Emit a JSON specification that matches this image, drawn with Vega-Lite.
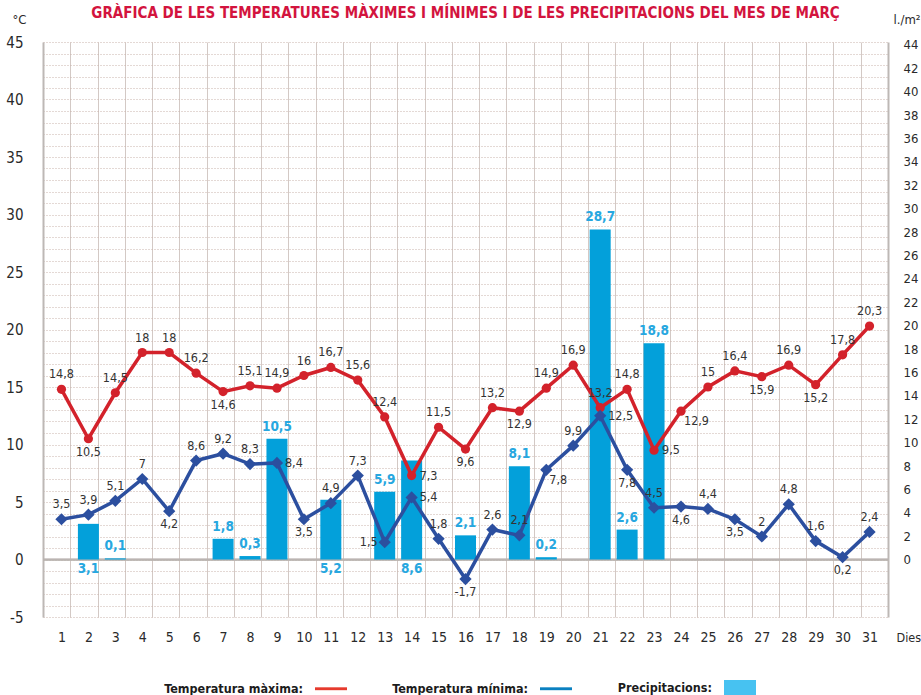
{
  "$schema": "https://vega.github.io/schema/vega-lite/v6.json",
  "width": 845,
  "height": 575,
  "autosize": {"type": "none"},
  "padding": {"left": 43, "top": 42, "right": 33, "bottom": 78},
  "background": "#ffffff",
  "title": {
    "text": "GRÀFICA DE LES TEMPERATURES MÀXIMES I MÍNIMES I DE LES PRECIPITACIONS DEL MES DE MARÇ",
    "anchor": "middle",
    "frame": "group",
    "color": "#d3143e",
    "fontSize": 15,
    "fontWeight": "bold",
    "baseline": "alphabetic",
    "offset": 0,
    "dy": 20
  },
  "data": {
    "values": [
      {"day": 1, "tmax": 14.8, "tmin": 3.5, "precip": null, "pmax": "a", "pmin": "a", "pp": null},
      {"day": 2, "tmax": 10.5, "tmin": 3.9, "precip": 3.1, "pmax": "b", "pmin": "a", "pp": "b"},
      {"day": 3, "tmax": 14.5, "tmin": 5.1, "precip": 0.1, "pmax": "a", "pmin": "a", "pp": "a"},
      {"day": 4, "tmax": 18, "tmin": 7, "precip": null, "pmax": "a", "pmin": "a", "pp": null},
      {"day": 5, "tmax": 18, "tmin": 4.2, "precip": null, "pmax": "a", "pmin": "b", "pp": null},
      {"day": 6, "tmax": 16.2, "tmin": 8.6, "precip": null, "pmax": "a", "pmin": "a", "pp": null},
      {"day": 7, "tmax": 14.6, "tmin": 9.2, "precip": 1.8, "pmax": "b", "pmin": "a", "pp": "a"},
      {"day": 8, "tmax": 15.1, "tmin": 8.3, "precip": 0.3, "pmax": "a", "pmin": "a", "pp": "a"},
      {"day": 9, "tmax": 14.9, "tmin": 8.4, "precip": 10.5, "pmax": "a", "pmin": "r", "pp": "a"},
      {"day": 10, "tmax": 16, "tmin": 3.5, "precip": null, "pmax": "a", "pmin": "b", "pp": null},
      {"day": 11, "tmax": 16.7, "tmin": 4.9, "precip": 5.2, "pmax": "a", "pmin": "a", "pp": "b"},
      {"day": 12, "tmax": 15.6, "tmin": 7.3, "precip": null, "pmax": "a", "pmin": "a", "pp": null},
      {"day": 13, "tmax": 12.4, "tmin": 1.5, "precip": 5.9, "pmax": "a", "pmin": "l", "pp": "a"},
      {"day": 14, "tmax": 7.3, "tmin": 5.4, "precip": 8.6, "pmax": "r", "pmin": "r", "pp": "b"},
      {"day": 15, "tmax": 11.5, "tmin": 1.8, "precip": null, "pmax": "a", "pmin": "a", "pp": null},
      {"day": 16, "tmax": 9.6, "tmin": -1.7, "precip": 2.1, "pmax": "b", "pmin": "b", "pp": "a"},
      {"day": 17, "tmax": 13.2, "tmin": 2.6, "precip": null, "pmax": "a", "pmin": "a", "pp": null},
      {"day": 18, "tmax": 12.9, "tmin": 2.1, "precip": 8.1, "pmax": "b", "pmin": "a", "pp": "a"},
      {"day": 19, "tmax": 14.9, "tmin": 7.8, "precip": 0.2, "pmax": "a", "pmin": "br", "pp": "a"},
      {"day": 20, "tmax": 16.9, "tmin": 9.9, "precip": null, "pmax": "a", "pmin": "a", "pp": null},
      {"day": 21, "tmax": 13.2, "tmin": 12.5, "precip": 28.7, "pmax": "a", "pmin": "r", "pp": "a"},
      {"day": 22, "tmax": 14.8, "tmin": 7.8, "precip": 2.6, "pmax": "a", "pmin": "b", "pp": "a"},
      {"day": 23, "tmax": 9.5, "tmin": 4.5, "precip": 18.8, "pmax": "r", "pmin": "a", "pp": "a"},
      {"day": 24, "tmax": 12.9, "tmin": 4.6, "precip": null, "pmax": "br", "pmin": "b", "pp": null},
      {"day": 25, "tmax": 15, "tmin": 4.4, "precip": null, "pmax": "a", "pmin": "a", "pp": null},
      {"day": 26, "tmax": 16.4, "tmin": 3.5, "precip": null, "pmax": "a", "pmin": "b", "pp": null},
      {"day": 27, "tmax": 15.9, "tmin": 2, "precip": null, "pmax": "b", "pmin": "a", "pp": null},
      {"day": 28, "tmax": 16.9, "tmin": 4.8, "precip": null, "pmax": "a", "pmin": "a", "pp": null},
      {"day": 29, "tmax": 15.2, "tmin": 1.6, "precip": null, "pmax": "b", "pmin": "a", "pp": null},
      {"day": 30, "tmax": 17.8, "tmin": 0.2, "precip": null, "pmax": "a", "pmin": "b", "pp": null},
      {"day": 31, "tmax": 20.3, "tmin": 2.4, "precip": null, "pmax": "a", "pmin": "a", "pp": null}
    ]
  },
  "layer": [
    {
      "data": {"values": [{"z": 0}]},
      "mark": {"type": "rule", "color": "#bab4b1", "strokeWidth": 2},
      "encoding": {
        "x": {
          "datum": 0.5,
          "type": "quantitative",
          "scale": {"domain": [0.5, 31.5], "nice": false, "zero": false},
          "axis": {
            "orient": "bottom",
            "values": [1.5, 2.5, 3.5, 4.5, 5.5, 6.5, 7.5, 8.5, 9.5, 10.5, 11.5, 12.5, 13.5, 14.5, 15.5, 16.5, 17.5, 18.5, 19.5, 20.5, 21.5, 22.5, 23.5, 24.5, 25.5, 26.5, 27.5, 28.5, 29.5, 30.5],
            "tickCount": 200,
            "labels": false,
            "ticks": false,
            "domain": false,
            "title": null,
            "grid": true,
            "gridColor": "#d3c9c5",
            "gridWidth": 1
          }
        },
        "x2": {"datum": 31.5},
        "y": {
          "field": "z",
          "type": "quantitative",
          "scale": {"domain": [-5, 45], "nice": false, "zero": false},
          "axis": {
            "orient": "left",
            "values": [-5, -4, -3, -2, -1, 0, 1, 2, 3, 4, 5, 6, 7, 8, 9, 10, 11, 12, 13, 14, 15, 16, 17, 18, 19, 20, 21, 22, 23, 24, 25, 26, 27, 28, 29, 30, 31, 32, 33, 34, 35, 36, 37, 38, 39, 40, 41, 42, 43, 44, 45],
            "tickCount": 200,
            "labels": false,
            "ticks": false,
            "domain": false,
            "title": null,
            "grid": true,
            "gridColor": "#c9b2aa",
            "gridWidth": 1,
            "gridDash": [1, 2]
          }
        }
      }
    },
    {
      "data": {"values": [{"z": 0}]},
      "mark": {"type": "rule", "color": "#bab4b1", "strokeWidth": 2},
      "encoding": {
        "y": {
          "field": "z",
          "type": "quantitative",
          "scale": {"domain": [-4.9, 44.25], "nice": false, "zero": false},
          "axis": {
            "orient": "right",
            "values": [0, 2, 4, 6, 8, 10, 12, 14, 16, 18, 20, 22, 24, 26, 28, 30, 32, 34, 36, 38, 40, 42, 44],
            "tickCount": 200,
            "format": "d",
            "labelOverlap": false,
            "grid": false,
            "ticks": false,
            "domain": true,
            "domainColor": "#bdb8b5",
            "domainWidth": 2,
            "labelPadding": 15,
            "labelFontSize": 13,
            "labelColor": "#2a2a2a",
            "labelBaseline": "middle",
            "title": "l./m²",
            "titleAngle": 0,
            "titleX": 5,
            "titleY": -23,
            "titleAlign": "left",
            "titleBaseline": "middle",
            "titleFontWeight": "normal",
            "titleFontSize": 13,
            "titleColor": "#2a2a2a"
          }
        }
      }
    },
    {
      "layer": [
        {
          "transform": [{"filter": "datum.precip != null"}],
          "mark": {"type": "bar", "color": "#03a0da", "size": 21},
          "encoding": {
            "x": {
              "field": "day",
              "type": "quantitative",
              "scale": {"domain": [0.5, 31.5], "nice": false, "zero": false},
              "axis": {
                "orient": "bottom",
                "values": [1, 2, 3, 4, 5, 6, 7, 8, 9, 10, 11, 12, 13, 14, 15, 16, 17, 18, 19, 20, 21, 22, 23, 24, 25, 26, 27, 28, 29, 30, 31],
                "tickCount": 200,
                "format": "d",
                "labelOverlap": false,
                "labelFontSize": 14,
                "labelColor": "#2a2a2a",
                "labelBaseline": "middle",
                "labelPadding": 20,
                "ticks": false,
                "domain": false,
                "grid": false,
                "title": "Dies",
                "titleX": 853,
                "titleY": 20,
                "titleAlign": "left",
                "titleBaseline": "middle",
                "titleFontWeight": "normal",
                "titleFontSize": 12.5,
                "titleColor": "#2a2a2a"
              }
            },
            "y": {
              "field": "precip",
              "type": "quantitative",
              "scale": {"domain": [-5, 45], "nice": false},
              "axis": {
                "orient": "left",
                "values": [-5, 0, 5, 10, 15, 20, 25, 30, 35, 40, 45],
                "tickCount": 200,
                "format": "d",
                "labelOverlap": false,
                "labelFontSize": 15,
                "labelColor": "#2a2a2a",
                "labelPadding": 20,
                "labelBaseline": "middle",
                "ticks": false,
                "domain": true,
                "domainColor": "#bdb8b5",
                "domainWidth": 2,
                "grid": false,
                "title": "°C",
                "titleAngle": 0,
                "titleX": -31,
                "titleY": -23,
                "titleAlign": "left",
                "titleBaseline": "middle",
                "titleFontWeight": "normal",
                "titleFontSize": 13,
                "titleColor": "#2a2a2a"
              }
            },
            "y2": {"datum": 0}
          }
        },
        {
          "transform": [{"filter": "datum.pp == 'a'"}],
          "mark": {"type": "text", "color": "#27a7e0", "fontWeight": "bold", "fontSize": 13.5, "baseline": "middle", "dy": -12},
          "encoding": {
            "x": {"field": "day", "type": "quantitative"},
            "y": {"field": "precip", "type": "quantitative"},
            "text": {"field": "precip", "type": "quantitative", "format": ".1~f"}
          }
        },
        {
          "transform": [{"filter": "datum.pp == 'b'"}],
          "mark": {"type": "text", "color": "#27a7e0", "fontWeight": "bold", "fontSize": 13.5, "baseline": "middle", "dy": 9},
          "encoding": {
            "x": {"field": "day", "type": "quantitative"},
            "y": {"datum": 0, "type": "quantitative"},
            "text": {"field": "precip", "type": "quantitative", "format": ".1~f"}
          }
        },
        {
          "mark": {"type": "line", "color": "#d3222b", "strokeWidth": 3.5},
          "encoding": {
            "x": {"field": "day", "type": "quantitative"},
            "y": {"field": "tmax", "type": "quantitative"}
          }
        },
        {
          "mark": {"type": "point", "shape": "circle", "filled": true, "opacity": 1, "color": "#d3222b", "size": 85},
          "encoding": {
            "x": {"field": "day", "type": "quantitative"},
            "y": {"field": "tmax", "type": "quantitative"}
          }
        },
        {
          "mark": {"type": "line", "color": "#2c4f9f", "strokeWidth": 3.5},
          "encoding": {
            "x": {"field": "day", "type": "quantitative"},
            "y": {"field": "tmin", "type": "quantitative"}
          }
        },
        {
          "mark": {"type": "point", "shape": "diamond", "filled": true, "opacity": 1, "color": "#2c4f9f", "size": 150},
          "encoding": {
            "x": {"field": "day", "type": "quantitative"},
            "y": {"field": "tmin", "type": "quantitative"}
          }
        },
        {
          "mark": {
            "type": "text", "fontSize": 12.5, "color": "#333333", "baseline": "middle",
            "dy": {"expr": "datum.pmax == 'a' ? -15 : (datum.pmax == 'b' ? 13 : (datum.pmax == 'br' ? 10 : 0))"},
            "dx": {"expr": "datum.pmax == 'r' ? 8 : (datum.pmax == 'l' ? -7 : (datum.pmax == 'br' ? 3 : 0))"},
            "align": {"expr": "datum.pmax == 'r' || datum.pmax == 'br' ? 'left' : (datum.pmax == 'l' ? 'right' : 'center')"}
          },
          "encoding": {
            "x": {"field": "day", "type": "quantitative"},
            "y": {"field": "tmax", "type": "quantitative"},
            "text": {"field": "tmax", "type": "quantitative", "format": ".1~f"}
          }
        },
        {
          "mark": {
            "type": "text", "fontSize": 12.5, "color": "#333333", "baseline": "middle",
            "dy": {"expr": "datum.pmin == 'a' ? -15 : (datum.pmin == 'b' ? 13 : (datum.pmin == 'br' ? 10 : 0))"},
            "dx": {"expr": "datum.pmin == 'r' ? 8 : (datum.pmin == 'l' ? -7 : (datum.pmin == 'br' ? 3 : 0))"},
            "align": {"expr": "datum.pmin == 'r' || datum.pmin == 'br' ? 'left' : (datum.pmin == 'l' ? 'right' : 'center')"}
          },
          "encoding": {
            "x": {"field": "day", "type": "quantitative"},
            "y": {"field": "tmin", "type": "quantitative"},
            "text": {"field": "tmin", "type": "quantitative", "format": ".1~f"}
          }
        },
        {
          "data": {"values": [{"serie": "Temperatura màxima:"}, {"serie": "Temperatura mínima:"}, {"serie": "Precipitacions:"}]},
          "mark": {"type": "point", "filled": true, "size": 0, "opacity": 1},
          "encoding": {
            "color": {
              "field": "serie",
              "type": "nominal",
              "scale": {"domain": ["Temperatura màxima:", "Temperatura mínima:", "Precipitacions:"], "range": ["#e63a2d", "#0a80c0", "#47c2f1"]},
              "legend": {
                "title": null,
                "orient": "none",
                "legendX": 272,
                "legendY": 630,
                "direction": "horizontal",
                "labelFontWeight": "bold",
                "labelFontSize": 12.5,
                "labelColor": "#1c1c1c",
                "labelAlign": "right",
                "labelOffset": -44,
                "labelLimit": 300,
                "symbolSize": 1024,
                "symbolStrokeWidth": 0,
                "symbolOpacity": 1,
                "columnPadding": 45
              }
            },
            "shape": {
              "field": "serie",
              "type": "nominal",
              "scale": {"domain": ["Temperatura màxima:", "Temperatura mínima:", "Precipitacions:"], "range": ["M-1,-0.09L1,-0.09L1,0.09L-1,0.09Z", "M-1,-0.09L1,-0.09L1,0.09L-1,0.09Z", "M-1,-0.5L1,-0.5L1,0.5L-1,0.5Z"]}
            }
          }
        }
      ]
    }
  ],
  "resolve": {"scale": {"x": "independent", "y": "independent"}},
  "config": {
    "font": "DejaVu Sans Condensed, DejaVu Sans, sans-serif",
    "view": {"fill": "#fadfd5", "stroke": null},
    "locale": {"number": {"decimal": ",", "thousands": ".", "grouping": [3], "currency": ["", " €"], "minus": "-"}}
  }
}
